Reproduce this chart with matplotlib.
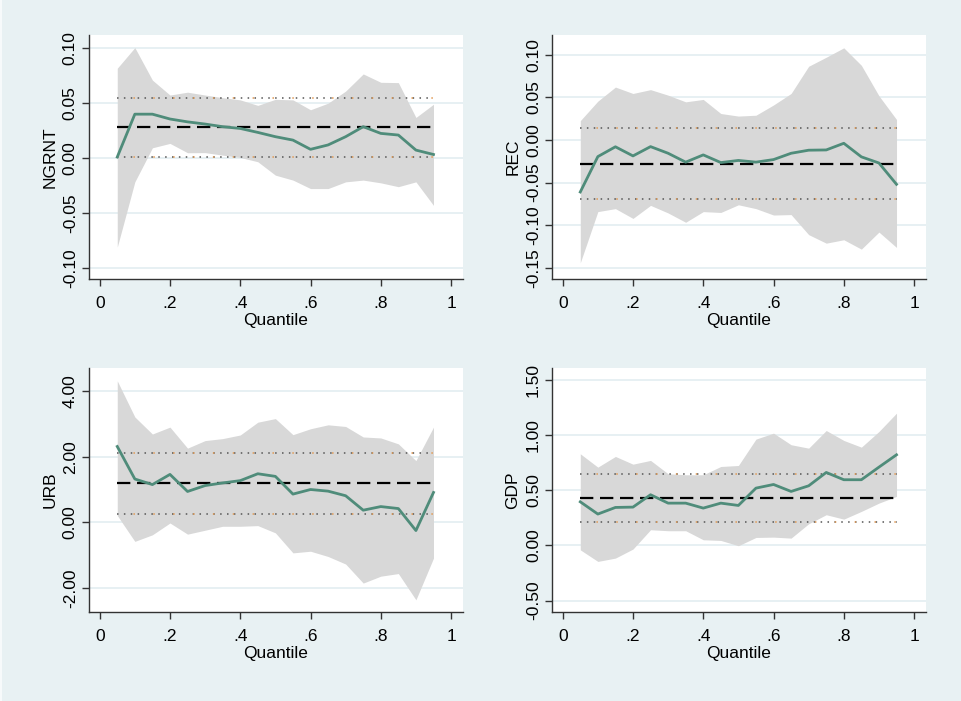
import numpy as np
import matplotlib
matplotlib.use("Agg")
import matplotlib.pyplot as plt
from matplotlib.patches import Rectangle

plt.rcParams['font.family'] = ['Liberation Sans', 'DejaVu Sans']

# quantiles used in all four panels
quantiles = [0.05, 0.10, 0.15, 0.20, 0.25, 0.30, 0.35, 0.40, 0.45, 0.50,
             0.55, 0.60, 0.65, 0.70, 0.75, 0.80, 0.85, 0.90, 0.95]

# NGRNT
ngrnt_est = [0.001, 0.040, 0.040, 0.0356, 0.033, 0.031, 0.0286, 0.027, 0.0234, 0.0195,
             0.0164, 0.008, 0.012, 0.0195, 0.0286, 0.0225, 0.021, 0.0073, 0.0033]
ngrnt_hi = [0.0818, 0.1006, 0.071, 0.0574, 0.060, 0.0574, 0.055, 0.053, 0.048, 0.0535,
            0.053, 0.044, 0.050, 0.061, 0.0766, 0.069, 0.0687, 0.037, 0.049]
ngrnt_lo = [-0.081, -0.0216, 0.0094, 0.0134, 0.0049, 0.005, 0.0027, 0.0006, -0.0033, -0.0155,
            -0.020, -0.0277, -0.0277, -0.0216, -0.020, -0.0225, -0.026, -0.0216, -0.043]
ngrnt_ols = [0.028, 0.001, 0.055]  # coefficient, lower, upper

# REC
rec_est = [-0.061, -0.0195, -0.008, -0.0187, -0.0078, -0.0156, -0.026, -0.0175, -0.0265, -0.024,
           -0.026, -0.023, -0.0156, -0.012, -0.0117, -0.0039, -0.0198, -0.027, -0.052]
rec_hi = [0.0226, 0.0455, 0.062, 0.0545, 0.059, 0.0525, 0.0447, 0.0475, 0.031, 0.028,
          0.029, 0.041, 0.0545, 0.0864, 0.097, 0.108, 0.0875, 0.0518, 0.024]
rec_lo = [-0.144, -0.084, -0.0805, -0.092, -0.0767, -0.0856, -0.0965, -0.084, -0.085, -0.076,
          -0.0805, -0.088, -0.0875, -0.111, -0.121, -0.117, -0.128, -0.108, -0.126]
rec_ols = [-0.028, -0.069, 0.0136]

# URB
urb_est = [2.31, 1.32, 1.15, 1.46, 0.94, 1.12, 1.20, 1.27, 1.48, 1.40,
           0.86, 1.00, 0.95, 0.81, 0.37, 0.48, 0.42, -0.25, 0.91]
urb_hi = [4.31, 3.21, 2.69, 2.90, 2.26, 2.49, 2.55, 2.66, 3.05, 3.16,
          2.67, 2.85, 2.97, 2.92, 2.60, 2.57, 2.39, 1.88, 2.90]
urb_lo = [0.21, -0.58, -0.38, -0.02, -0.36, -0.24, -0.12, -0.12, -0.10, -0.32,
          -0.93, -0.88, -1.04, -1.27, -1.85, -1.64, -1.56, -2.36, -1.09]
urb_ols = [1.20, 0.26, 2.11]

# GDP
gdp_est = [0.395, 0.284, 0.344, 0.347, 0.459, 0.383, 0.383, 0.338, 0.383, 0.362,
           0.519, 0.552, 0.489, 0.540, 0.661, 0.595, 0.595, 0.709, 0.821]
gdp_hi = [0.83, 0.709, 0.806, 0.736, 0.77, 0.649, 0.64, 0.64, 0.715, 0.724,
          0.963, 1.017, 0.912, 0.881, 1.041, 0.951, 0.89, 1.032, 1.198]
gdp_lo = [-0.04, -0.145, -0.115, -0.033, 0.142, 0.133, 0.133, 0.051, 0.045, -0.003,
          0.072, 0.075, 0.066, 0.196, 0.278, 0.238, 0.308, 0.383, 0.444]
gdp_ols = [0.429, 0.211, 0.646]

x_ticks = [0, 0.2, 0.4, 0.6, 0.8, 1.0]
x_ticklabels = ["0", ".2", ".4", ".6", ".8", "1"]

panels = [
    ("NGRNT", ngrnt_est, ngrnt_lo, ngrnt_hi, ngrnt_ols,
     [-0.10, -0.05, 0.00, 0.05, 0.10], (-0.110, 0.112)),
    ("REC", rec_est, rec_lo, rec_hi, rec_ols,
     [-0.15, -0.10, -0.05, 0.00, 0.05, 0.10], (-0.163, 0.123)),
    ("URB", urb_est, urb_lo, urb_hi, urb_ols,
     [-2.0, 0.0, 2.0, 4.0], (-2.73, 4.70)),
    ("GDP", gdp_est, gdp_lo, gdp_hi, gdp_ols,
     [-0.5, 0.0, 0.5, 1.0, 1.5], (-0.603, 1.607)),
]

bg = "#e8f1f3"
grid_col = "#e3eef1"
axis_col = "#333333"

fig = plt.figure(figsize=(9.62, 7.01), dpi=100, facecolor=bg)
# faint white strip down the left edge, as in the scanned original
fig.patches.append(Rectangle((0, 0), 2.0 / 962, 1, transform=fig.transFigure,
                             facecolor="#f7fafb", edgecolor="none"))

positions = [
    [0.0925, 0.602, 0.3888, 0.348],
    [0.5738, 0.602, 0.3888, 0.348],
    [0.0925, 0.127, 0.3888, 0.348],
    [0.5738, 0.127, 0.3888, 0.348],
]

for pos, (name, est, lo, hi, ols, yt, ylim) in zip(positions, panels):
    ax = fig.add_axes(pos)
    ax.set_facecolor("white")
    for yv in yt:
        ax.axhline(yv, color=grid_col, lw=1.2, zorder=0)

    ax.fill_between(quantiles, lo, hi, color="#d8d8d8", lw=0, zorder=1)

    q0, q1 = quantiles[0], quantiles[-1]
    ax.plot([q0, q1], [ols[0], ols[0]], color="black", lw=1.6,
            linestyle=(0, (6, 3)), zorder=3)
    for v in ols[1:]:
        ax.plot([q0, q1], [v, v], color="#555555", lw=1.1,
                linestyle=(0, (1, 3.5)), zorder=3)
        ax.plot([q0, q1], [v, v], color="#e09a55", lw=1.1,
                linestyle=(2.25, (1, 12)), zorder=3)

    ax.plot(quantiles, est, color="#4f8c7a", lw=2.0, zorder=4)

    ax.set_xlim(-0.0305, 1.034)
    ax.set_ylim(*ylim)
    ax.set_xticks(x_ticks)
    ax.set_xticklabels(x_ticklabels)
    ax.set_yticks(yt)
    ax.set_yticklabels(["%.2f" % v for v in yt], rotation=90, va="center")

    for s in ["top", "right"]:
        ax.spines[s].set_visible(False)
    for s in ["left", "bottom"]:
        ax.spines[s].set_color(axis_col)
        ax.spines[s].set_linewidth(1.0)
    ax.tick_params(axis="both", colors=axis_col, labelcolor="black",
                   labelsize=12.5, length=5, width=1.0, direction="out")
    ax.tick_params(axis="x", pad=7)
    ax.tick_params(axis="y", pad=3)

    ax.set_xlabel("Quantile", fontsize=12.5, labelpad=2)
    ax.set_ylabel(name, fontsize=12.5, labelpad=4)

fig.savefig("out.png", dpi=100, facecolor=fig.get_facecolor())
